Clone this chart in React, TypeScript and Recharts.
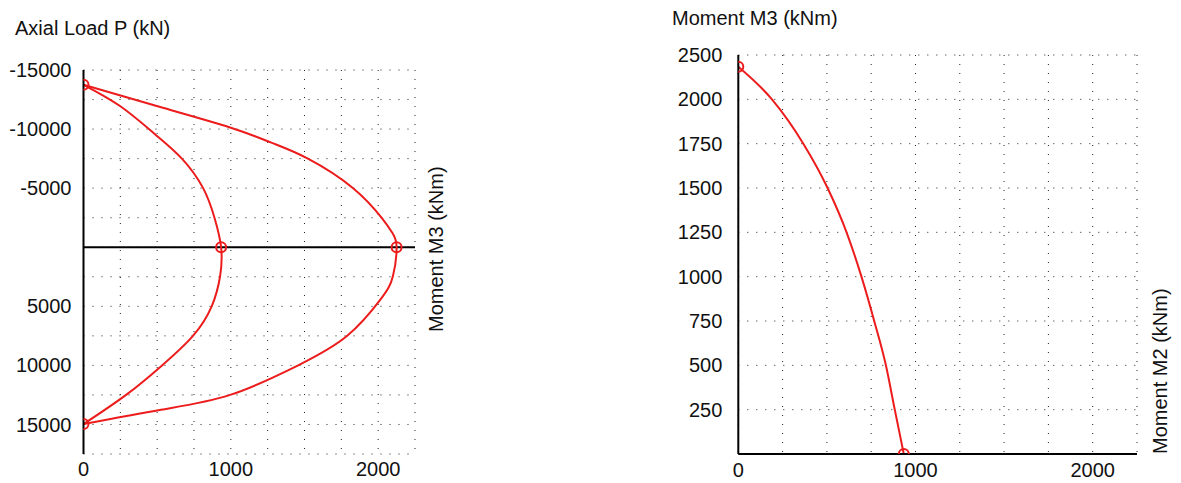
import React from 'react'
import { LineChart, Line, XAxis, YAxis, CartesianGrid, ReferenceLine } from 'recharts'

const FONT = '"Liberation Sans", Arial, sans-serif'
const RED = '#ec1c1c'

// P-M3 interaction curve (left)
const OUTER_P = [-13750, -11950, -10140, -8850, -7500, -5000, -2500, -1180, 0, 2458, 4440, 7500, 10000, 12500, 13750, 14970]
const OUTER_M = [0, 497, 995, 1275, 1523, 1830, 2023, 2098, 2125, 2100, 2015, 1790, 1457, 995, 526, 0]
const INNER_P = [-13750, -11950, -9570, -7500, -5000, -2500, 0, 2458, 5000, 7500, 10000, 12500, 14970]
const INNER_M = [0, 248, 485, 668, 812, 889, 934, 927, 870, 743, 533, 289, 0]
const LEFT_MARK_P = [-13750, 0, 0, 14970]
const LEFT_MARK_M = [0, 934, 2125, 0]

const LEFT_P_TICKS = [-15000, -12500, -10000, -7500, -5000, -2500, 0, 2500, 5000, 7500, 10000, 12500, 15000, 17500]
const LEFT_P_LABELS = [-15000, -10000, -5000, 5000, 10000, 15000]
const M_TICKS = [0, 250, 500, 750, 1000, 1250, 1500, 1750, 2000, 2250]
const M_LABELS = [0, 1000, 2000]

// M2-M3 curve (right)
const RIGHT_M2 = [0, 190, 367, 504, 611, 695, 767, 833, 883, 934]
const RIGHT_M3 = [2184, 2000, 1750, 1500, 1250, 1000, 750, 500, 250, 0]
const RIGHT_MARK_M2 = [0, 934]
const RIGHT_MARK_M3 = [2184, 0]
const RIGHT_M3_TICKS = [0, 250, 500, 750, 1000, 1250, 1500, 1750, 2000, 2250]
const RIGHT_M3_LABELS = ['', '250', '500', '750', '1000', '1250', '1500', '1750', '2000', '2500']

const outer = OUTER_P.map((p, i) => ({ p, m: OUTER_M[i] }))
const inner = INNER_P.map((p, i) => ({ p, m: INNER_M[i] }))
const leftMarks = LEFT_MARK_P.map((p, i) => ({ p, m: LEFT_MARK_M[i] }))
const rightCurve = RIGHT_M2.map((m2, i) => ({ m2, m3: RIGHT_M3[i] }))
const rightMarks = RIGHT_MARK_M2.map((m2, i) => ({ m2, m3: RIGHT_MARK_M3[i] }))

const tick = { fill: '#111', fontSize: 20, fontFamily: FONT }
const axisLine = { stroke: '#000', strokeWidth: 2 }
const markDot = { r: 5, stroke: RED, strokeWidth: 2, fill: 'none' }
const label: React.CSSProperties = { position: 'absolute', fontFamily: FONT, fontSize: 20, lineHeight: '20px', color: '#111', whiteSpace: 'nowrap' }
const rotated: React.CSSProperties = { ...label, transform: 'rotate(-90deg)', transformOrigin: '0 0' }

export default function App() {
  return (
    <div style={{ position: 'absolute', left: 0, top: 0, width: 1181, height: 483, background: '#fff' }}>
      <div style={{ ...label, left: 15, top: 18 }}>Axial Load P (kN)</div>
      <div style={{ ...rotated, left: 426, top: 332 }}>Moment M3 (kNm)</div>
      <div style={{ ...label, left: 672, top: 8 }}>Moment M3 (kNm)</div>
      <div style={{ ...rotated, left: 1150, top: 454 }}>Moment M2 (kNm)</div>

      <div style={{ position: 'absolute', left: 0, top: 0 }}>
        <LineChart width={450} height={483} layout="vertical" margin={{ top: 70, right: 35, bottom: 0, left: 0 }}>
          <CartesianGrid stroke="#222" strokeDasharray="1 8" />
          <XAxis type="number" domain={[0, 2250]} ticks={M_TICKS} allowDataOverflow
            tickFormatter={v => (M_LABELS.includes(v) ? String(v) : '')}
            tick={tick} axisLine={false} tickLine={false} tickSize={0} tickMargin={8} height={29} />
          <YAxis type="number" dataKey="p" domain={[-15000, 17500]} ticks={LEFT_P_TICKS} allowDataOverflow
            tickFormatter={v => (LEFT_P_LABELS.includes(v) ? String(v) : '')}
            tick={tick} axisLine={axisLine} tickLine={false} tickSize={0} tickMargin={12} width={83.5} />
          <ReferenceLine y={0} stroke="#000" strokeWidth={2} />
          <Line data={outer} dataKey="m" type="natural" stroke={RED} strokeWidth={2} dot={false} isAnimationActive={false} />
          <Line data={inner} dataKey="m" type="natural" stroke={RED} strokeWidth={2} dot={false} isAnimationActive={false} />
          <Line data={leftMarks} dataKey="m" type="linear" stroke="none" dot={markDot} activeDot={false} isAnimationActive={false} />
        </LineChart>
      </div>

      <div style={{ position: 'absolute', left: 600, top: 0 }}>
        <LineChart width={581} height={483} margin={{ top: 55, right: 44, bottom: 0, left: 0 }}>
          <CartesianGrid stroke="#222" strokeDasharray="1 8" />
          <XAxis type="number" dataKey="m2" domain={[0, 2250]} ticks={M_TICKS} allowDataOverflow
            tickFormatter={v => (M_LABELS.includes(v) ? String(v) : '')}
            tick={tick} axisLine={axisLine} tickLine={false} tickSize={0} tickMargin={9} height={29} />
          <YAxis type="number" domain={[0, 2250]} ticks={RIGHT_M3_TICKS} allowDataOverflow
            tickFormatter={v => RIGHT_M3_LABELS[RIGHT_M3_TICKS.indexOf(v)] ?? ''}
            tick={tick} axisLine={axisLine} tickLine={false} tickSize={0} tickMargin={16} width={138.3} />
          <Line data={rightCurve} dataKey="m3" type="monotoneX" stroke={RED} strokeWidth={2} dot={false} isAnimationActive={false} />
          <Line data={rightMarks} dataKey="m3" type="linear" stroke="none" dot={markDot} activeDot={false} isAnimationActive={false} />
        </LineChart>
      </div>
    </div>
  )
}
